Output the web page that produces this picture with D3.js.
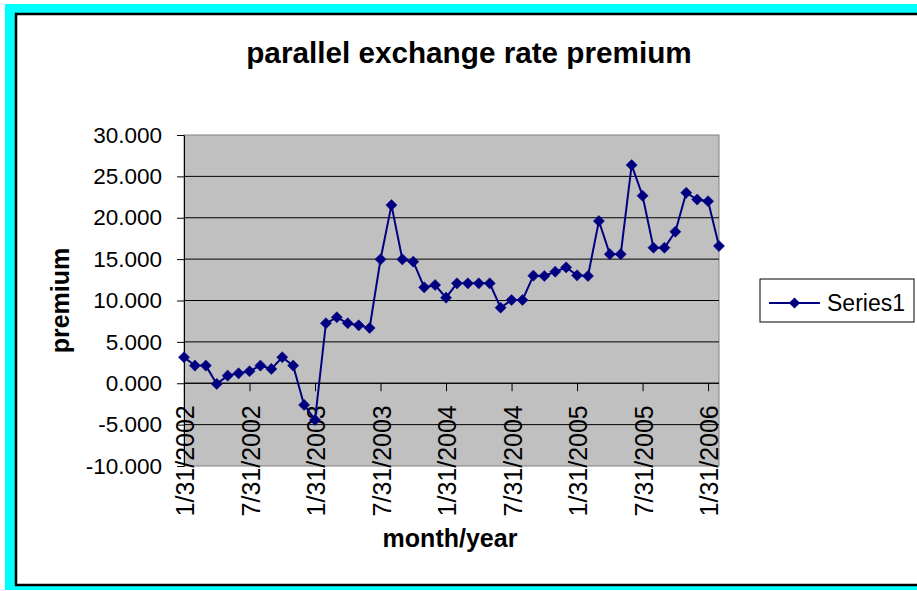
<!DOCTYPE html>
<html>
<head>
<meta charset="utf-8">
<script src="https://cdn.jsdelivr.net/npm/d3@7"></script>
<style>
  body { margin: 0; background: #fff; }
  svg { display: block; font-family: "Liberation Sans", Arial, sans-serif; }
</style>
</head>
<body>
<svg width="917" height="591"></svg>
<script>
// month-end dates, Jan 2002 .. Feb 2006
var months = [
  "1/31/2002", "2/28/2002", "3/31/2002", "4/30/2002", "5/31/2002", "6/30/2002",
  "7/31/2002", "8/31/2002", "9/30/2002", "10/31/2002", "11/30/2002", "12/31/2002",
  "1/31/2003", "2/28/2003", "3/31/2003", "4/30/2003", "5/31/2003", "6/30/2003",
  "7/31/2003", "8/31/2003", "9/30/2003", "10/31/2003", "11/30/2003", "12/31/2003",
  "1/31/2004", "2/29/2004", "3/31/2004", "4/30/2004", "5/31/2004", "6/30/2004",
  "7/31/2004", "8/31/2004", "9/30/2004", "10/31/2004", "11/30/2004", "12/31/2004",
  "1/31/2005", "2/28/2005", "3/31/2005", "4/30/2005", "5/31/2005", "6/30/2005",
  "7/31/2005", "8/31/2005", "9/30/2005", "10/31/2005", "11/30/2005", "12/31/2005",
  "1/31/2006", "2/28/2006"
];

var premium = [
  3.14, 2.13, 2.13, -0.08, 0.92, 1.20, 1.45, 2.13, 1.73, 3.14, 2.13, -2.62,
  -4.43, 7.25, 7.97, 7.25, 7.00, 6.68, 14.97, 21.53, 14.97, 14.69, 11.59, 11.87,
  10.34, 12.07, 12.07, 12.07, 12.07, 9.13, 10.06, 10.06, 13.00, 12.96, 13.48, 14.00,
  13.04, 12.96, 19.60, 15.60, 15.60, 26.36, 22.66, 16.38, 16.38, 18.31, 23.02, 22.20,
  22.00, 16.58
];

var xTickLabels = ["1/31/2002", "7/31/2002", "1/31/2003", "7/31/2003", "1/31/2004",
  "7/31/2004", "1/31/2005", "7/31/2005", "1/31/2006"];
var yTicks = [-10, -5, 0, 5, 10, 15, 20, 25, 30];
var seriesName = "Series1";

var svg = d3.select("svg");
var plot = {left: 184, right: 719, top: 135, bottom: 466};
var navy = "#000080";

/* outer frame: cyan band + black border */
svg.append("rect").attr("x", 5).attr("y", 4).attr("width", 950).attr("height", 586).attr("fill", "#00ffff");
svg.append("rect").attr("x", 16).attr("y", 14).attr("width", 950).attr("height", 571)
    .attr("fill", "#fff").attr("stroke", "#000").attr("stroke-width", 2.5);

var x = d3.scalePoint().domain(months).range([plot.left, plot.right]);
var y = d3.scaleLinear().domain([-10, 30]).range([plot.bottom, plot.top]);

/* plot area */
svg.append("rect")
    .attr("x", plot.left).attr("y", plot.top)
    .attr("width", plot.right - plot.left).attr("height", plot.bottom - plot.top)
    .attr("fill", "#c0c0c0").attr("stroke", "#808080").attr("stroke-width", 1);

/* gridlines */
svg.append("g").selectAll("line")
    .data(yTicks.filter(function(d) { return d > -10 && d < 30; }))
    .enter().append("line")
      .attr("x1", plot.left).attr("x2", plot.right)
      .attr("y1", function(d) { return y(d); }).attr("y2", function(d) { return y(d); })
      .attr("stroke", "#000").attr("stroke-width", 1);

/* y axis */
var yAxis = svg.append("g")
    .attr("transform", "translate(" + plot.left + ",0)")
    .call(d3.axisLeft(y).tickValues(yTicks).tickSize(7).tickSizeOuter(0).tickPadding(15)
      .tickFormat(function(d) { return d.toFixed(3); }));
yAxis.selectAll("text").attr("font-size", 22.5).attr("font-family", "Liberation Sans, Arial, sans-serif").attr("fill", "#000");

/* x axis crossing at zero */
var xAxis = svg.append("g")
    .attr("transform", "translate(0," + y(0) + ")")
    .call(d3.axisBottom(x).tickValues(xTickLabels).tickSize(8).tickSizeOuter(0));
xAxis.select(".domain").attr("d", "M" + plot.left + ",0H" + plot.right);
xAxis.selectAll("text")
    .attr("font-size", 25).attr("font-family", "Liberation Sans, Arial, sans-serif").attr("fill", "#000")
    .attr("text-anchor", "end")
    .attr("transform", "rotate(-90)")
    .attr("x", -22).attr("y", 9.5).attr("dy", 0);

/* series */
var line = d3.line()
    .x(function(d, i) { return x(months[i]); })
    .y(function(d) { return y(d); });

svg.append("path")
    .datum(premium)
    .attr("d", line)
    .attr("fill", "none").attr("stroke", navy).attr("stroke-width", 2);

var diamond = d3.symbol().type(d3.symbolSquare).size(62);
svg.append("g").selectAll("path")
    .data(premium)
    .enter().append("path")
      .attr("d", diamond)
      .attr("transform", function(d, i) { return "translate(" + x(months[i]) + "," + y(d) + ") rotate(45)"; })
      .attr("fill", navy).attr("stroke", navy).attr("stroke-width", 0.5);

/* titles */
svg.append("text")
    .attr("x", 469).attr("y", 63)
    .attr("text-anchor", "middle").attr("font-size", 29.7).attr("font-weight", "bold")
    .text("parallel exchange rate premium");

svg.append("text")
    .attr("x", 450).attr("y", 547)
    .attr("text-anchor", "middle").attr("font-size", 25).attr("font-weight", "bold")
    .text("month/year");

svg.append("text")
    .attr("transform", "translate(69," + (plot.top + plot.bottom) / 2 + ") rotate(-90)")
    .attr("text-anchor", "middle").attr("font-size", 25).attr("font-weight", "bold")
    .text("premium");

/* legend */
var legend = svg.append("g");
legend.append("rect")
    .attr("x", 760).attr("y", 279).attr("width", 154).attr("height", 43)
    .attr("fill", "#fff").attr("stroke", "#000").attr("stroke-width", 1);
legend.append("line")
    .attr("x1", 769).attr("x2", 820).attr("y1", 303).attr("y2", 303)
    .attr("stroke", navy).attr("stroke-width", 2);
legend.append("path")
    .attr("d", diamond)
    .attr("transform", "translate(794.5,303) rotate(45)")
    .attr("fill", navy);
legend.append("text")
    .attr("x", 827).attr("y", 311)
    .attr("font-size", 23)
    .text(seriesName);
</script>
</body>
</html>
